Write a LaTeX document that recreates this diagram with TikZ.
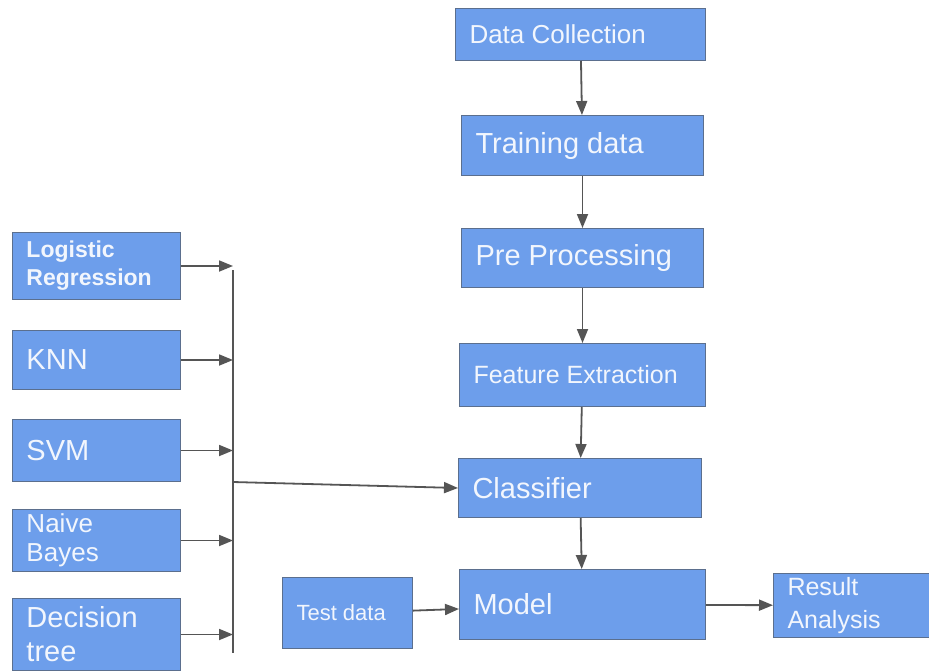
\documentclass[tikz,border=0pt]{standalone}
\usepackage{fontspec}
\setmainfont{Liberation Sans}
\usepackage{xcolor}
\usetikzlibrary{arrows.meta,positioning}

\definecolor{boxfill}{HTML}{6D9EEB}
\definecolor{boxline}{HTML}{5B6F8E}
\definecolor{boxtext}{HTML}{F2F6FD}
\definecolor{linegray}{HTML}{555555}

\tikzset{
  box/.style={rectangle,draw=boxline,line width=1pt,fill=boxfill,text=boxtext,
    inner xsep=14pt,inner ysep=2pt,anchor=north west,align=flush left},
  arr/.style={-{Triangle[length=14pt,width=11pt]},draw=linegray,fill=linegray,line width=1.8pt},
  bar/.style={draw=linegray,line width=1.8pt}
}

\newcommand{\fs}[2]{\fontsize{#1pt}{#2pt}\selectfont}

\begin{document}
\begin{tikzpicture}[x=1pt,y=-1pt]
\useasboundingbox[fill=white] (0,0) rectangle (929,670);

% main pipeline
\node[box,font=\fs{26}{30},text width=222pt,minimum height=52pt] (dc) at (455,8) {Data Collection};
\node[box,font=\fs{29}{33},text width=214pt,minimum height=60pt] (td) at (461,115) {Training data};
\node[box,font=\fs{29}{33},text width=214pt,minimum height=59pt] (pp) at (461,228) {Pre Processing};
\node[box,font=\fs{25}{29},text width=218pt,minimum height=63pt] (fe) at (459,343) {Feature Extraction};
\node[box,font=\fs{29}{33},text width=215pt,minimum height=59pt] (cl) at (458,458) {Classifier};
\node[box,font=\fs{29}{33},text width=218pt,minimum height=70pt] (md) at (459,569) {Model};
\node[box,font=\fs{22}{26},text width=102pt,minimum height=71pt] (ts) at (282,577) {Test data};
\node[box,font=\fs{25}{33},text width=142pt,minimum height=64pt] (ra) at (773,573) {Result\\Analysis};

% algorithms
\node[box,font=\fs{23}{28}\bfseries,text width=140pt,minimum height=67pt] (lr) at (12,232) {Logistic\\Regression};
\node[box,font=\fs{29}{33},text width=140pt,minimum height=59pt] (kn) at (12,330) {KNN};
\node[box,font=\fs{29}{33},text width=140pt,minimum height=62pt] (sv) at (12,419) {SVM};
\node[box,font=\fs{26}{29},text width=140pt,minimum height=62pt] (nb) at (12,509) {Naive\\Bayes};
\node[box,font=\fs{29}{34},text width=140pt,minimum height=72pt] (dt) at (12,598) {Decision\\tree};

\coordinate (bustop) at (233,270);
\coordinate (busbot) at (233,653);
\coordinate (busmid) at (233,482);

\draw[arr] (dc) -- (td);
\draw[arr] (td) -- (pp);
\draw[arr] (pp) -- (fe);
\draw[arr] (fe) -- (cl);
\draw[arr] (cl) -- (md);
\draw[arr] (md) -- (ra);
\draw[arr] (ts) -- (md);

\draw[bar] (bustop) -- (busbot);
\draw[arr] (lr.east) -- (lr.east -| bustop);
\draw[arr] (kn.east) -- (kn.east -| bustop);
\draw[arr] (sv.east) -- (sv.east -| bustop);
\draw[arr] (nb.east) -- (nb.east -| bustop);
\draw[arr] (dt.east) -- (dt.east -| bustop);
\draw[arr] (busmid) -- (cl.west);

\end{tikzpicture}
\end{document}
